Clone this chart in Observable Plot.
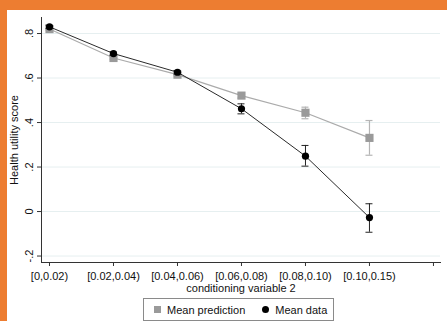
<!DOCTYPE html>
<html>
<head>
<meta charset="utf-8">
<script src="https://cdn.jsdelivr.net/npm/d3@7"></script>
<script src="https://cdn.jsdelivr.net/npm/@observablehq/plot@0.6"></script>
<style>
  html, body { margin: 0; padding: 0; }
  body { width: 447px; height: 321px; background: #ed7d31; position: relative; overflow: hidden; font-family: "Liberation Sans", Arial, sans-serif; }
  #panel { position: absolute; left: 7px; top: 10px; width: 440px; height: 311px; background: #ffffff; }
  #chart { position: absolute; left: 0; top: 0; }
  #legend { position: absolute; left: 136px; top: 288px; width: 189px; height: 21px; border: 1px solid #8a8a8a; background: #fff;
            display: flex; align-items: center; font-size: 11px; color: #111; box-sizing: content-box; }
  .item { display: flex; align-items: center; margin-left: 10px; }
  .item + .item { margin-left: 17px; }
  .sw { display: inline-block; margin-right: 6px; }
</style>
</head>
<body>
<div id="panel">
  <div id="chart"></div>
  <div id="legend"></div>
</div>
<script>
// ---- data ----
const categories = ["[0,0.02)", "[0.02,0.04)", "[0.04,0.06)", "[0.06,0.08)", "[0.08,0.10)", "[0.10,0.15)", ""];
const seriesNames = ["Mean prediction", "Mean data"];
const predMean = [0.82, 0.69, 0.615, 0.521, 0.444, 0.331];
const predLo   = [0.815, 0.685, 0.61, 0.51, 0.417, 0.253];
const predHi   = [0.825, 0.695, 0.62, 0.532, 0.469, 0.409];
const dataMean = [0.83, 0.71, 0.626, 0.462, 0.249, -0.027];
const dataLo   = [0.822, 0.702, 0.618, 0.439, 0.204, -0.093];
const dataHi   = [0.838, 0.718, 0.634, 0.484, 0.297, 0.035];
const yTicks = [-0.2, 0, 0.2, 0.4, 0.6, 0.8];
const yTickLabels = ["-.2", "0", ".2", ".4", ".6", ".8"];
const xTitle = "conditioning variable 2";
const yTitle = "Health utility score";

// ---- build tables ----
const pred = predMean.map((v, i) => ({x: i + 1, y: v, lo: predLo[i], hi: predHi[i]}));
const obs = dataMean.map((v, i) => ({x: i + 1, y: v, lo: dataLo[i], hi: dataHi[i]}));
const xTickPos = categories.map((c, i) => i + 1);
const yLabelData = yTicks.map((t, i) => ({t, label: yTickLabels[i]}));

const grayMarker = "#9a9a9a", grayLine = "#ababab", grayErr = "#b5b5b5";
const blackMarker = "#000000", blackLine = "#2a2a2a", blackErr = "#222222";
const axisColor = "#333333";

const plot = Plot.plot({
  width: 440,
  height: 288,
  marginLeft: 34,
  marginRight: 7,
  marginTop: 7,
  marginBottom: 36,
  style: {fontFamily: "Liberation Sans, Arial, sans-serif", fontSize: "11px", color: "#111", background: "transparent"},
  x: {type: "linear", domain: [0.875, 7.11]},
  y: {domain: [-0.229, 0.872]},
  marks: [
    Plot.gridY(yTicks, {stroke: "#e6eff0", strokeOpacity: 1, strokeWidth: 1}),
    Plot.frame({anchor: "left", stroke: axisColor}),
    Plot.frame({anchor: "bottom", stroke: axisColor}),
    Plot.axisX({ticks: xTickPos, tickSize: 4, tickPadding: 6, stroke: axisColor,
                tickFormat: d => categories[d - 1], label: null, fontSize: 11}),
    Plot.tickY(yTicks, {x: 0.875, dx: -2, stroke: axisColor}) && Plot.axisY({ticks: yTicks, tickSize: 4, tickFormat: () => "", label: null, stroke: axisColor}),
    Plot.text(yLabelData, {y: "t", text: "label", frameAnchor: "left", dx: -12, rotate: -90,
                           textAnchor: "middle", lineAnchor: "middle", fontSize: 11, fill: "#111"}),
    Plot.text([yTitle], {text: d => d, frameAnchor: "left", dx: -27, rotate: -90,
                         textAnchor: "middle", lineAnchor: "middle", fontSize: 11, fill: "#111"}),
    Plot.text([xTitle], {text: d => d, frameAnchor: "bottom", dy: 26,
                         textAnchor: "middle", lineAnchor: "middle", fontSize: 11, fill: "#111"}),
    // prediction series
    Plot.line(pred, {x: "x", y: "y", stroke: grayLine, strokeWidth: 1.2}),
    Plot.ruleX(pred, {x: "x", y1: "lo", y2: "hi", stroke: grayErr, strokeWidth: 1.2}),
    Plot.ruleY(pred, {y: "lo", x1: "x", x2: "x", insetLeft: -3.5, insetRight: -3.5, stroke: grayErr, strokeWidth: 1.2}),
    Plot.ruleY(pred, {y: "hi", x1: "x", x2: "x", insetLeft: -3.5, insetRight: -3.5, stroke: grayErr, strokeWidth: 1.2}),
    Plot.dot(pred, {x: "x", y: "y", symbol: "square", r: 4.6, fill: grayMarker, stroke: "none"}),
    // data series
    Plot.line(obs, {x: "x", y: "y", stroke: blackLine, strokeWidth: 1}),
    Plot.ruleX(obs, {x: "x", y1: "lo", y2: "hi", stroke: blackErr, strokeWidth: 1}),
    Plot.ruleY(obs, {y: "lo", x1: "x", x2: "x", insetLeft: -3.5, insetRight: -3.5, stroke: blackErr, strokeWidth: 1}),
    Plot.ruleY(obs, {y: "hi", x1: "x", x2: "x", insetLeft: -3.5, insetRight: -3.5, stroke: blackErr, strokeWidth: 1}),
    Plot.dot(obs, {x: "x", y: "y", r: 3.6, fill: blackMarker, stroke: "none"})
  ]
});
document.getElementById("chart").appendChild(plot);

// legend
const legend = document.getElementById("legend");
const swatches = [
  `<span class="sw" style="width:7px;height:7px;background:${grayMarker}"></span>`,
  `<span class="sw" style="width:7px;height:7px;border-radius:50%;background:${blackMarker}"></span>`
];
seriesNames.forEach((name, i) => {
  const div = document.createElement("div");
  div.className = "item";
  div.innerHTML = swatches[i] + `<span>${name}</span>`;
  legend.appendChild(div);
});
</script>
</body>
</html>
